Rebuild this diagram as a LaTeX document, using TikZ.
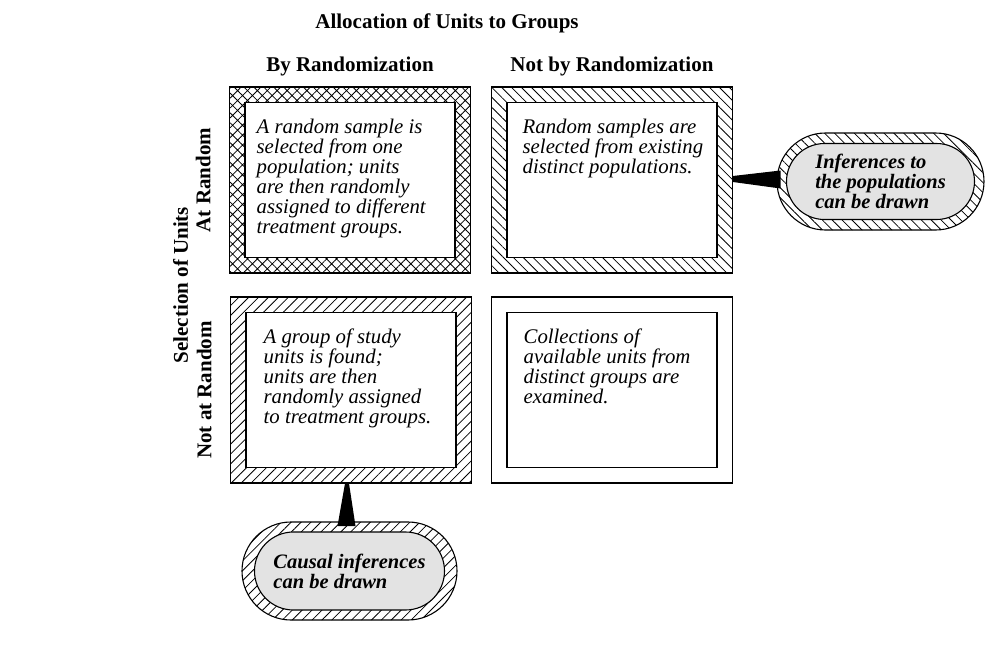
\documentclass[tikz,border=0pt]{standalone}
\usepackage{fontspec}
\setmainfont{Liberation Serif}
\usetikzlibrary{positioning,calc,patterns.meta,shapes.misc}

\tikzset{
    outerbox/.style={draw, line width=1.1pt, minimum width=241, minimum height=186, inner sep=0},
    innerbox/.style={draw, fill=white, line width=1.1pt, minimum width=210, minimum height=155, inner sep=0},
    boxtext/.style={anchor=north west, align=left, inner sep=0, font=\fontsize{20.8}{20}\selectfont\itshape},
    head/.style={inner sep=0, font=\fontsize{21}{24}\selectfont\bfseries},
    pill/.style={rounded rectangle, draw, line width=1.1pt, inner sep=0},
    pillin/.style={pill, fill=gray!22, align=left, font=\fontsize{20.5}{20}\selectfont\bfseries\itshape},
    crosshatch/.style={pattern={Hatch[angle=45, distance=7pt, line width=0.8pt]}},
    backhatch/.style={pattern={Lines[angle=-45, distance=7pt, line width=0.8pt]}},
    fwdhatch/.style={pattern={Lines[angle=45, distance=7pt, line width=0.8pt]}}
}

\begin{document}
\begin{tikzpicture}[x=1pt, y=-1pt]
    \useasboundingbox (0,0) rectangle (986,645);

    % the four cells
    \node[outerbox, crosshatch] (tl) at (350,180) {};
    \node[outerbox, backhatch] (tr) at (612,180) {};
    \node[outerbox, fwdhatch] (bl) at (351,390) {};
    \node[outerbox] (br) at (612,390) {};
    \foreach \c in {tl, tr, bl, br}
        \node[innerbox] (\c in) at (\c) {};

    \node[boxtext] (tltext) at ($(tlin.north west)+(12,17)$) {A random sample is\\ selected from one\\ population; units\\ are then randomly\\ assigned to different\\ treatment groups.};
    \node[boxtext] (trtext) at ($(trin.north west)+(16,17)$) {Random samples are\\ selected from existing\\ distinct populations.};
    \node[boxtext] (bltext) at ($(blin.north west)+(18,17)$) {A group of study\\ units is found;\\ units are then\\ randomly assigned\\ to treatment groups.};
    \node[boxtext] (brtext) at ($(brin.north west)+(17,17)$) {Collections of\\ available units from\\ distinct groups are\\ examined.};

    % headings
    \node[head, anchor=base] (alloc) at (447,28) {Allocation of Units to Groups};
    \node[head, above=10pt of tl] (byrand) {By Randomization};
    \node[head, above=10pt of tr] (notbyrand) {Not by Randomization};
    \node[head, rotate=90] (atrand) at ($(tl.west)+(-26,0)$) {At Random};
    \node[head, rotate=90] (notatrand) at ($(bl.west)+(-26,0)$) {Not at Random};
    \node[head, rotate=90] (selection) at ($(tl.west)!0.5!(bl.west)+(-49,0)$) {Selection of Units};

    % callouts
    \coordinate (rp) at (880.5,181.5);
    \coordinate (bp) at (349.5,571);
    \fill ($(tr.east)+(0,-4)$) -- ($(tr.east)+(0,2)$) -- ($(rp)+(-100,7)$) -- ($(rp)+(-100,-11)$) -- cycle;
    \fill ($(bl.south)+(-6,0)$) -- ($(bl.south)+(-2,0)$) -- ($(bp)+(6,-45)$) -- ($(bp)+(-12,-45)$) -- cycle;
    \node[pill, backhatch, minimum width=207, minimum height=97] (rpill) at (rp) {};
    \node[pillin, minimum width=188, minimum height=76] (rpillin) at (rpill) {Inferences to\\ the populations\\ can be drawn};
    \node[pill, fwdhatch, minimum width=215, minimum height=98] (bpill) at (bp) {};
    \node[pillin, minimum width=190, minimum height=78] (bpillin) at (bpill) {Causal inferences\\ can be drawn};
\end{tikzpicture}
\end{document}
